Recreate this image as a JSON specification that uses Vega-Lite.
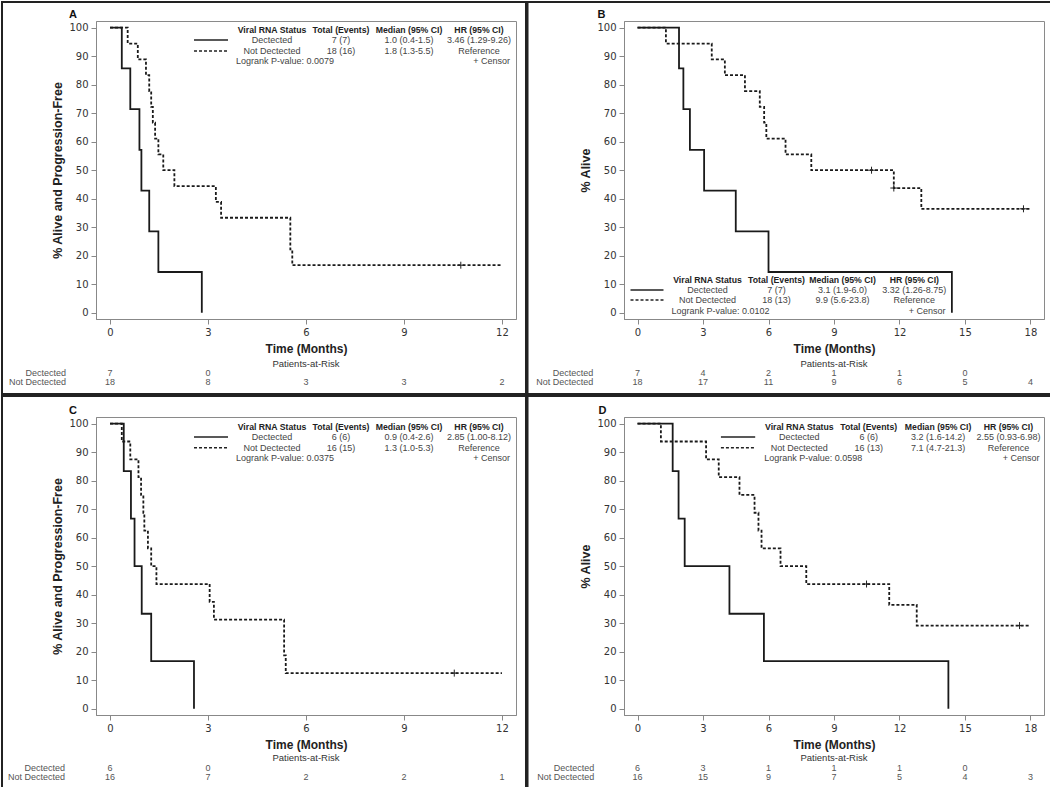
{
"$schema": "https://vega.github.io/schema/vega-lite/v6.json",
"background": "white",
"padding": 0,
"columns": 2,
"spacing": -2,
"datasets": {
"one": [{}],
"km": [
{"p":"A","g":"Dectected","t":0,"s":100},{"p":"A","g":"Dectected","t":0.36,"s":85.71},{"p":"A","g":"Dectected","t":0.62,"s":71.43},{"p":"A","g":"Dectected","t":0.9,"s":57.14},{"p":"A","g":"Dectected","t":0.96,"s":42.86},{"p":"A","g":"Dectected","t":1.2,"s":28.57},{"p":"A","g":"Dectected","t":1.48,"s":14.29},{"p":"A","g":"Dectected","t":2.81,"s":0},
{"p":"A","g":"Not Dectected","t":0,"s":100},{"p":"A","g":"Not Dectected","t":0.54,"s":94.44},{"p":"A","g":"Not Dectected","t":0.85,"s":88.89},{"p":"A","g":"Not Dectected","t":1.1,"s":83.33},{"p":"A","g":"Not Dectected","t":1.2,"s":77.78},{"p":"A","g":"Not Dectected","t":1.26,"s":72.22},{"p":"A","g":"Not Dectected","t":1.31,"s":66.67},{"p":"A","g":"Not Dectected","t":1.38,"s":61.11},{"p":"A","g":"Not Dectected","t":1.48,"s":55.56},{"p":"A","g":"Not Dectected","t":1.63,"s":50},{"p":"A","g":"Not Dectected","t":1.97,"s":44.44},{"p":"A","g":"Not Dectected","t":3.24,"s":38.89},{"p":"A","g":"Not Dectected","t":3.4,"s":33.33},{"p":"A","g":"Not Dectected","t":5.52,"s":22.22},{"p":"A","g":"Not Dectected","t":5.58,"s":16.67},{"p":"A","g":"Not Dectected","t":12,"s":16.67},
{"p":"B","g":"Dectected","t":0,"s":100},{"p":"B","g":"Dectected","t":1.9,"s":85.71},{"p":"B","g":"Dectected","t":2.1,"s":71.43},{"p":"B","g":"Dectected","t":2.4,"s":57.14},{"p":"B","g":"Dectected","t":3.05,"s":42.86},{"p":"B","g":"Dectected","t":4.5,"s":28.57},{"p":"B","g":"Dectected","t":6.0,"s":14.29},{"p":"B","g":"Dectected","t":14.4,"s":0},
{"p":"B","g":"Not Dectected","t":0,"s":100},{"p":"B","g":"Not Dectected","t":1.3,"s":94.44},{"p":"B","g":"Not Dectected","t":3.4,"s":88.89},{"p":"B","g":"Not Dectected","t":4.0,"s":83.33},{"p":"B","g":"Not Dectected","t":4.92,"s":77.78},{"p":"B","g":"Not Dectected","t":5.6,"s":72.22},{"p":"B","g":"Not Dectected","t":5.8,"s":66.67},{"p":"B","g":"Not Dectected","t":5.9,"s":61.11},{"p":"B","g":"Not Dectected","t":6.78,"s":55.56},{"p":"B","g":"Not Dectected","t":7.96,"s":50},{"p":"B","g":"Not Dectected","t":11.74,"s":43.75},{"p":"B","g":"Not Dectected","t":13.0,"s":36.46},{"p":"B","g":"Not Dectected","t":18,"s":36.46},
{"p":"C","g":"Dectected","t":0,"s":100},{"p":"C","g":"Dectected","t":0.42,"s":83.33},{"p":"C","g":"Dectected","t":0.64,"s":66.67},{"p":"C","g":"Dectected","t":0.75,"s":50},{"p":"C","g":"Dectected","t":0.97,"s":33.33},{"p":"C","g":"Dectected","t":1.26,"s":16.67},{"p":"C","g":"Dectected","t":2.57,"s":0},
{"p":"C","g":"Not Dectected","t":0,"s":100},{"p":"C","g":"Not Dectected","t":0.36,"s":93.75},{"p":"C","g":"Not Dectected","t":0.62,"s":87.5},{"p":"C","g":"Not Dectected","t":0.87,"s":81.25},{"p":"C","g":"Not Dectected","t":0.95,"s":75},{"p":"C","g":"Not Dectected","t":1.02,"s":68.75},{"p":"C","g":"Not Dectected","t":1.05,"s":62.5},{"p":"C","g":"Not Dectected","t":1.16,"s":56.25},{"p":"C","g":"Not Dectected","t":1.26,"s":50},{"p":"C","g":"Not Dectected","t":1.42,"s":43.75},{"p":"C","g":"Not Dectected","t":3.05,"s":37.5},{"p":"C","g":"Not Dectected","t":3.18,"s":31.25},{"p":"C","g":"Not Dectected","t":5.33,"s":18.75},{"p":"C","g":"Not Dectected","t":5.38,"s":12.5},{"p":"C","g":"Not Dectected","t":12,"s":12.5},
{"p":"D","g":"Dectected","t":0,"s":100},{"p":"D","g":"Dectected","t":1.61,"s":83.33},{"p":"D","g":"Dectected","t":1.88,"s":66.67},{"p":"D","g":"Dectected","t":2.16,"s":50},{"p":"D","g":"Dectected","t":4.21,"s":33.33},{"p":"D","g":"Dectected","t":5.79,"s":16.67},{"p":"D","g":"Dectected","t":14.24,"s":0},
{"p":"D","g":"Not Dectected","t":0,"s":100},{"p":"D","g":"Not Dectected","t":1.07,"s":93.75},{"p":"D","g":"Not Dectected","t":3.14,"s":87.5},{"p":"D","g":"Not Dectected","t":3.72,"s":81.25},{"p":"D","g":"Not Dectected","t":4.67,"s":75},{"p":"D","g":"Not Dectected","t":5.36,"s":68.75},{"p":"D","g":"Not Dectected","t":5.54,"s":62.5},{"p":"D","g":"Not Dectected","t":5.68,"s":56.25},{"p":"D","g":"Not Dectected","t":6.55,"s":50},{"p":"D","g":"Not Dectected","t":7.73,"s":43.75},{"p":"D","g":"Not Dectected","t":11.53,"s":36.46},{"p":"D","g":"Not Dectected","t":12.79,"s":29.17},{"p":"D","g":"Not Dectected","t":17.92,"s":29.17}
],
"cens": [
{"p":"A","t":10.74,"s":16.67},
{"p":"B","t":10.72,"s":50},{"p":"B","t":11.74,"s":43.75},{"p":"B","t":17.68,"s":36.46},
{"p":"C","t":10.54,"s":12.5},
{"p":"D","t":10.49,"s":43.75},{"p":"D","t":17.5,"s":29.17}
],
"risk": [
{"p":"A","g":"Dectected","t":0,"n":7},{"p":"A","g":"Dectected","t":3,"n":0},
{"p":"A","g":"Not Dectected","t":0,"n":18},{"p":"A","g":"Not Dectected","t":3,"n":8},{"p":"A","g":"Not Dectected","t":6,"n":3},{"p":"A","g":"Not Dectected","t":9,"n":3},{"p":"A","g":"Not Dectected","t":12,"n":2},
{"p":"B","g":"Dectected","t":0,"n":7},{"p":"B","g":"Dectected","t":3,"n":4},{"p":"B","g":"Dectected","t":6,"n":2},{"p":"B","g":"Dectected","t":9,"n":1},{"p":"B","g":"Dectected","t":12,"n":1},{"p":"B","g":"Dectected","t":15,"n":0},
{"p":"B","g":"Not Dectected","t":0,"n":18},{"p":"B","g":"Not Dectected","t":3,"n":17},{"p":"B","g":"Not Dectected","t":6,"n":11},{"p":"B","g":"Not Dectected","t":9,"n":9},{"p":"B","g":"Not Dectected","t":12,"n":6},{"p":"B","g":"Not Dectected","t":15,"n":5},{"p":"B","g":"Not Dectected","t":18,"n":4},
{"p":"C","g":"Dectected","t":0,"n":6},{"p":"C","g":"Dectected","t":3,"n":0},
{"p":"C","g":"Not Dectected","t":0,"n":16},{"p":"C","g":"Not Dectected","t":3,"n":7},{"p":"C","g":"Not Dectected","t":6,"n":2},{"p":"C","g":"Not Dectected","t":9,"n":2},{"p":"C","g":"Not Dectected","t":12,"n":1},
{"p":"D","g":"Dectected","t":0,"n":6},{"p":"D","g":"Dectected","t":3,"n":3},{"p":"D","g":"Dectected","t":6,"n":1},{"p":"D","g":"Dectected","t":9,"n":1},{"p":"D","g":"Dectected","t":12,"n":1},{"p":"D","g":"Dectected","t":15,"n":0},
{"p":"D","g":"Not Dectected","t":0,"n":16},{"p":"D","g":"Not Dectected","t":3,"n":15},{"p":"D","g":"Not Dectected","t":6,"n":9},{"p":"D","g":"Not Dectected","t":9,"n":7},{"p":"D","g":"Not Dectected","t":12,"n":5},{"p":"D","g":"Not Dectected","t":15,"n":4},{"p":"D","g":"Not Dectected","t":18,"n":3}
]
},
"concat": [
{
"width": 420, "height": 298,
"layer": [
{"data":{"name":"one"},"mark":{"type":"rect","fill":"white","fillOpacity":0,"stroke":"#222","strokeWidth":2},"encoding":{"x":{"datum":-3.308,"scale":{"domain":[-0.43,12.43],"nice":false,"zero":false},"axis":{"values":[0,3,6,9,12],"title":"Time (Months)"}},"x2":{"datum":12.736},"y":{"datum":109.02,"scale":{"domain":[-2.2,102.35],"nice":false,"zero":false},"axis":{"values":[0,10,20,30,40,50,60,70,80,90,100],"labelOverlap":false,"tickCount":11,"title":"% Alive and Progression-Free"}},"y2":{"datum":-28.51}}},
{"data":{"name":"km"},"transform":[{"filter":"datum.p == 'A'"}],"mark":{"type":"line","interpolate":"step-after","color":"#1a1a1a","strokeWidth":1.8},
"encoding":{"x":{"field":"t","type":"quantitative","title":"Time (Months)","axis":{"values":[0,3,6,9,12]}},
"y":{"field":"s","type":"quantitative","title":"% Alive and Progression-Free","axis":{"values":[0,10,20,30,40,50,60,70,80,90,100],"labelOverlap":false,"tickCount":11}},
"strokeDash":{"field":"g","type":"nominal","scale":{"domain":["Dectected","Not Dectected"],"range":[[1,0],[3,2]]},"legend":null}}},
{"data":{"name":"cens"},"transform":[{"filter":"datum.p == 'A'"}],"mark":{"type":"point","shape":"M-1,0L1,0M0,-1L0,1","size":49,"filled":false,"color":"#222","strokeWidth":1,"opacity":1},"encoding":{"x":{"field":"t","type":"quantitative","title":"Time (Months)","axis":{"values":[0,3,6,9,12]}},"y":{"field":"s","type":"quantitative","title":"% Alive and Progression-Free","axis":{"values":[0,10,20,30,40,50,60,70,80,90,100],"labelOverlap":false,"tickCount":11}}}},
{"data":{"name":"one"},"mark":{"type":"text","text":"A","fontWeight":"bold","fontSize":11,"color":"#111"},"encoding":{"x":{"datum":-1.134},"y":{"datum":104.6}}},
{"data":{"name":"one"},"mark":{"type":"rule","color":"#222","strokeWidth":1.6},"encoding":{"x":{"datum":2.571},"x2":{"datum":3.612},"y":{"datum":95.68}}},
{"data":{"name":"one"},"mark":{"type":"rule","color":"#222","strokeWidth":1.6,"strokeDash":[3,2]},"encoding":{"x":{"datum":2.571},"x2":{"datum":3.612},"y":{"datum":91.82}}},
{"data":{"name":"one"},"mark":{"type":"text","text":"Viral RNA Status","fontWeight":"bold","fontSize":8.7,"color":"#222"},"encoding":{"x":{"datum":4.959},"y":{"datum":99.19}}},
{"data":{"name":"one"},"mark":{"type":"text","text":"Total (Events)","fontWeight":"bold","fontSize":8.7,"color":"#222"},"encoding":{"x":{"datum":7.072},"y":{"datum":99.19}}},
{"data":{"name":"one"},"mark":{"type":"text","text":"Median (95% CI)","fontWeight":"bold","fontSize":8.7,"color":"#222"},"encoding":{"x":{"datum":9.154},"y":{"datum":99.19}}},
{"data":{"name":"one"},"mark":{"type":"text","text":"HR (95% CI)","fontWeight":"bold","fontSize":8.7,"color":"#222"},"encoding":{"x":{"datum":11.297},"y":{"datum":99.19}}},
{"data":{"name":"one"},"mark":{"type":"text","text":["Dectected","Not Dectected"],"lineHeight":11},"encoding":{"x":{"datum":4.959},"y":{"datum":95.68}}},
{"data":{"name":"one"},"mark":{"type":"text","text":["7 (7)","18 (16)"],"lineHeight":11},"encoding":{"x":{"datum":7.072},"y":{"datum":95.68}}},
{"data":{"name":"one"},"mark":{"type":"text","text":["1.0 (0.4-1.5)","1.8 (1.3-5.5)"],"lineHeight":11},"encoding":{"x":{"datum":9.154},"y":{"datum":95.68}}},
{"data":{"name":"one"},"mark":{"type":"text","text":["3.46 (1.29-9.26)","Reference"],"lineHeight":11},"encoding":{"x":{"datum":11.297},"y":{"datum":95.68}}},
{"data":{"name":"one"},"mark":{"type":"text","text":"Logrank P-value: 0.0079","align":"left"},"encoding":{"x":{"datum":3.857},"y":{"datum":88.31}}},
{"data":{"name":"one"},"mark":{"type":"text","text":"+  Censor","align":"right"},"encoding":{"x":{"datum":12.246},"y":{"datum":88.31}}},
{"data":{"name":"one"},"mark":{"type":"text","text":"Patients-at-Risk","fontSize":9.5,"color":"#333"},"encoding":{"x":{"datum":6},"y":{"datum":-17.9}}},
{"data":{"name":"one"},"mark":{"type":"text","text":["Dectected","Not Dectected"],"align":"right","lineHeight":9,"color":"#555"},"encoding":{"x":{"datum":-1.349},"y":{"datum":-21.16}}},
{"data":{"name":"risk"},"transform":[{"filter":"datum.p == 'A' && datum.g == 'Dectected'"}],"mark":{"type":"text","color":"#555"},"encoding":{"x":{"field":"t","type":"quantitative","title":"Time (Months)","axis":{"values":[0,3,6,9,12]}},"y":{"datum":-21.16},"text":{"field":"n"}}},
{"data":{"name":"risk"},"transform":[{"filter":"datum.p == 'A' && datum.g == 'Not Dectected'"}],"mark":{"type":"text","color":"#555"},"encoding":{"x":{"field":"t","type":"quantitative","title":"Time (Months)","axis":{"values":[0,3,6,9,12]}},"y":{"datum":-24.32},"text":{"field":"n"}}}
]
},
{
"width": 420, "height": 298,
"layer": [
{"data":{"name":"one"},"mark":{"type":"rect","fill":"white","fillOpacity":0,"stroke":"#222","strokeWidth":2},"encoding":{"x":{"datum":-5.04,"scale":{"domain":[-0.62,18.62],"nice":false,"zero":false},"axis":{"values":[0,3,6,9,12,15,18],"title":"Time (Months)"}},"x2":{"datum":18.963},"y":{"datum":109.02,"scale":{"domain":[-2.2,102.35],"nice":false,"zero":false},"axis":{"values":[0,10,20,30,40,50,60,70,80,90,100],"labelOverlap":false,"tickCount":11,"title":"% Alive"}},"y2":{"datum":-28.51}}},
{"data":{"name":"km"},"transform":[{"filter":"datum.p == 'B'"}],"mark":{"type":"line","interpolate":"step-after","color":"#1a1a1a","strokeWidth":1.8},
"encoding":{"x":{"field":"t","type":"quantitative","title":"Time (Months)","axis":{"values":[0,3,6,9,12,15,18]}},
"y":{"field":"s","type":"quantitative","title":"% Alive","axis":{"values":[0,10,20,30,40,50,60,70,80,90,100],"labelOverlap":false,"tickCount":11}},
"strokeDash":{"field":"g","type":"nominal","scale":{"domain":["Dectected","Not Dectected"],"range":[[1,0],[3,2]]},"legend":null}}},
{"data":{"name":"cens"},"transform":[{"filter":"datum.p == 'B'"}],"mark":{"type":"point","shape":"M-1,0L1,0M0,-1L0,1","size":49,"filled":false,"color":"#222","strokeWidth":1,"opacity":1},"encoding":{"x":{"field":"t","type":"quantitative","title":"Time (Months)","axis":{"values":[0,3,6,9,12,15,18]}},"y":{"field":"s","type":"quantitative","title":"% Alive","axis":{"values":[0,10,20,30,40,50,60,70,80,90,100],"labelOverlap":false,"tickCount":11}}}},
{"data":{"name":"one"},"mark":{"type":"text","text":"B","fontWeight":"bold","fontSize":11,"color":"#111"},"encoding":{"x":{"datum":-1.65},"y":{"datum":104.6}}},
{"data":{"name":"one"},"mark":{"type":"rule","color":"#222","strokeWidth":1.6},"encoding":{"x":{"datum":-0.322},"x2":{"datum":1.189},"y":{"datum":7.96}}},
{"data":{"name":"one"},"mark":{"type":"rule","color":"#222","strokeWidth":1.6,"strokeDash":[3,2]},"encoding":{"x":{"datum":-0.322},"x2":{"datum":1.189},"y":{"datum":4.45}}},
{"data":{"name":"one"},"mark":{"type":"text","text":"Viral RNA Status","fontWeight":"bold","fontSize":8.7,"color":"#222"},"encoding":{"x":{"datum":3.205},"y":{"datum":11.47}}},
{"data":{"name":"one"},"mark":{"type":"text","text":"Total (Events)","fontWeight":"bold","fontSize":8.7,"color":"#222"},"encoding":{"x":{"datum":6.366},"y":{"datum":11.47}}},
{"data":{"name":"one"},"mark":{"type":"text","text":"Median (95% CI)","fontWeight":"bold","fontSize":8.7,"color":"#222"},"encoding":{"x":{"datum":9.39},"y":{"datum":11.47}}},
{"data":{"name":"one"},"mark":{"type":"text","text":"HR (95% CI)","fontWeight":"bold","fontSize":8.7,"color":"#222"},"encoding":{"x":{"datum":12.68},"y":{"datum":11.47}}},
{"data":{"name":"one"},"mark":{"type":"text","text":["Dectected","Not Dectected"],"lineHeight":10},"encoding":{"x":{"datum":3.205},"y":{"datum":7.96}}},
{"data":{"name":"one"},"mark":{"type":"text","text":["7 (7)","18 (13)"],"lineHeight":10},"encoding":{"x":{"datum":6.366},"y":{"datum":7.96}}},
{"data":{"name":"one"},"mark":{"type":"text","text":["3.1 (1.9-6.0)","9.9 (5.6-23.8)"],"lineHeight":10},"encoding":{"x":{"datum":9.39},"y":{"datum":7.96}}},
{"data":{"name":"one"},"mark":{"type":"text","text":["3.32 (1.26-8.75)","Reference"],"lineHeight":10},"encoding":{"x":{"datum":12.68},"y":{"datum":7.96}}},
{"data":{"name":"one"},"mark":{"type":"text","text":"Logrank P-value: 0.0102","align":"left"},"encoding":{"x":{"datum":1.556},"y":{"datum":0.59}}},
{"data":{"name":"one"},"mark":{"type":"text","text":"+  Censor","align":"right"},"encoding":{"x":{"datum":14.107},"y":{"datum":0.59}}},
{"data":{"name":"one"},"mark":{"type":"text","text":"Patients-at-Risk","fontSize":9.5,"color":"#333"},"encoding":{"x":{"datum":9},"y":{"datum":-17.9}}},
{"data":{"name":"one"},"mark":{"type":"text","text":["Dectected","Not Dectected"],"align":"right","lineHeight":9,"color":"#555"},"encoding":{"x":{"datum":-2.03},"y":{"datum":-21.16}}},
{"data":{"name":"risk"},"transform":[{"filter":"datum.p == 'B' && datum.g == 'Dectected'"}],"mark":{"type":"text","color":"#555"},"encoding":{"x":{"field":"t","type":"quantitative","title":"Time (Months)","axis":{"values":[0,3,6,9,12,15,18]}},"y":{"datum":-21.16},"text":{"field":"n"}}},
{"data":{"name":"risk"},"transform":[{"filter":"datum.p == 'B' && datum.g == 'Not Dectected'"}],"mark":{"type":"text","color":"#555"},"encoding":{"x":{"field":"t","type":"quantitative","title":"Time (Months)","axis":{"values":[0,3,6,9,12,15,18]}},"y":{"datum":-24.32},"text":{"field":"n"}}}
]
},
{
"width": 420, "height": 298,
"layer": [
{"data":{"name":"one"},"mark":{"type":"rect","fill":"white","fillOpacity":0,"stroke":"#222","strokeWidth":2},"encoding":{"x":{"datum":-3.308,"scale":{"domain":[-0.43,12.43],"nice":false,"zero":false},"axis":{"values":[0,3,6,9,12],"title":"Time (Months)"}},"x2":{"datum":12.736},"y":{"datum":109.72,"scale":{"domain":[-2.2,102.35],"nice":false,"zero":false},"axis":{"values":[0,10,20,30,40,50,60,70,80,90,100],"labelOverlap":false,"tickCount":11,"title":"% Alive and Progression-Free"}},"y2":{"datum":-28.16}}},
{"data":{"name":"km"},"transform":[{"filter":"datum.p == 'C'"}],"mark":{"type":"line","interpolate":"step-after","color":"#1a1a1a","strokeWidth":1.8},
"encoding":{"x":{"field":"t","type":"quantitative","title":"Time (Months)","axis":{"values":[0,3,6,9,12]}},
"y":{"field":"s","type":"quantitative","title":"% Alive and Progression-Free","axis":{"values":[0,10,20,30,40,50,60,70,80,90,100],"labelOverlap":false,"tickCount":11}},
"strokeDash":{"field":"g","type":"nominal","scale":{"domain":["Dectected","Not Dectected"],"range":[[1,0],[3,2]]},"legend":null}}},
{"data":{"name":"cens"},"transform":[{"filter":"datum.p == 'C'"}],"mark":{"type":"point","shape":"M-1,0L1,0M0,-1L0,1","size":49,"filled":false,"color":"#222","strokeWidth":1,"opacity":1},"encoding":{"x":{"field":"t","type":"quantitative","title":"Time (Months)","axis":{"values":[0,3,6,9,12]}},"y":{"field":"s","type":"quantitative","title":"% Alive and Progression-Free","axis":{"values":[0,10,20,30,40,50,60,70,80,90,100],"labelOverlap":false,"tickCount":11}}}},
{"data":{"name":"one"},"mark":{"type":"text","text":"C","fontWeight":"bold","fontSize":11,"color":"#111"},"encoding":{"x":{"datum":-1.134},"y":{"datum":104.6}}},
{"data":{"name":"one"},"mark":{"type":"rule","color":"#222","strokeWidth":1.6},"encoding":{"x":{"datum":2.571},"x2":{"datum":3.612},"y":{"datum":95.33}}},
{"data":{"name":"one"},"mark":{"type":"rule","color":"#222","strokeWidth":1.6,"strokeDash":[3,2]},"encoding":{"x":{"datum":2.571},"x2":{"datum":3.612},"y":{"datum":91.58}}},
{"data":{"name":"one"},"mark":{"type":"text","text":"Viral RNA Status","fontWeight":"bold","fontSize":8.7,"color":"#222"},"encoding":{"x":{"datum":4.959},"y":{"datum":98.84}}},
{"data":{"name":"one"},"mark":{"type":"text","text":"Total (Events)","fontWeight":"bold","fontSize":8.7,"color":"#222"},"encoding":{"x":{"datum":7.072},"y":{"datum":98.84}}},
{"data":{"name":"one"},"mark":{"type":"text","text":"Median (95% CI)","fontWeight":"bold","fontSize":8.7,"color":"#222"},"encoding":{"x":{"datum":9.154},"y":{"datum":98.84}}},
{"data":{"name":"one"},"mark":{"type":"text","text":"HR (95% CI)","fontWeight":"bold","fontSize":8.7,"color":"#222"},"encoding":{"x":{"datum":11.297},"y":{"datum":98.84}}},
{"data":{"name":"one"},"mark":{"type":"text","text":["Dectected","Not Dectected"],"lineHeight":11},"encoding":{"x":{"datum":4.959},"y":{"datum":95.33}}},
{"data":{"name":"one"},"mark":{"type":"text","text":["6 (6)","16 (15)"],"lineHeight":11},"encoding":{"x":{"datum":7.072},"y":{"datum":95.33}}},
{"data":{"name":"one"},"mark":{"type":"text","text":["0.9 (0.4-2.6)","1.3 (1.0-5.3)"],"lineHeight":11},"encoding":{"x":{"datum":9.154},"y":{"datum":95.33}}},
{"data":{"name":"one"},"mark":{"type":"text","text":["2.85 (1.00-8.12)","Reference"],"lineHeight":11},"encoding":{"x":{"datum":11.297},"y":{"datum":95.33}}},
{"data":{"name":"one"},"mark":{"type":"text","text":"Logrank P-value: 0.0375","align":"left"},"encoding":{"x":{"datum":3.857},"y":{"datum":87.86}}},
{"data":{"name":"one"},"mark":{"type":"text","text":"+  Censor","align":"right"},"encoding":{"x":{"datum":12.246},"y":{"datum":87.86}}},
{"data":{"name":"one"},"mark":{"type":"text","text":"Patients-at-Risk","fontSize":9.5,"color":"#333"},"encoding":{"x":{"datum":6},"y":{"datum":-17.3}}},
{"data":{"name":"one"},"mark":{"type":"text","text":["Dectected","Not Dectected"],"align":"right","lineHeight":9,"color":"#555"},"encoding":{"x":{"datum":-1.38},"y":{"datum":-20.7}}},
{"data":{"name":"risk"},"transform":[{"filter":"datum.p == 'C' && datum.g == 'Dectected'"}],"mark":{"type":"text","color":"#555"},"encoding":{"x":{"field":"t","type":"quantitative","title":"Time (Months)","axis":{"values":[0,3,6,9,12]}},"y":{"datum":-20.7},"text":{"field":"n"}}},
{"data":{"name":"risk"},"transform":[{"filter":"datum.p == 'C' && datum.g == 'Not Dectected'"}],"mark":{"type":"text","color":"#555"},"encoding":{"x":{"field":"t","type":"quantitative","title":"Time (Months)","axis":{"values":[0,3,6,9,12]}},"y":{"datum":-23.86},"text":{"field":"n"}}}
]
},
{
"width": 420, "height": 298,
"layer": [
{"data":{"name":"one"},"mark":{"type":"rect","fill":"white","fillOpacity":0,"stroke":"#222","strokeWidth":2},"encoding":{"x":{"datum":-5.04,"scale":{"domain":[-0.62,18.62],"nice":false,"zero":false},"axis":{"values":[0,3,6,9,12,15,18],"title":"Time (Months)"}},"x2":{"datum":18.963},"y":{"datum":109.72,"scale":{"domain":[-2.2,102.35],"nice":false,"zero":false},"axis":{"values":[0,10,20,30,40,50,60,70,80,90,100],"labelOverlap":false,"tickCount":11,"title":"% Alive"}},"y2":{"datum":-28.16}}},
{"data":{"name":"km"},"transform":[{"filter":"datum.p == 'D'"}],"mark":{"type":"line","interpolate":"step-after","color":"#1a1a1a","strokeWidth":1.8},
"encoding":{"x":{"field":"t","type":"quantitative","title":"Time (Months)","axis":{"values":[0,3,6,9,12,15,18]}},
"y":{"field":"s","type":"quantitative","title":"% Alive","axis":{"values":[0,10,20,30,40,50,60,70,80,90,100],"labelOverlap":false,"tickCount":11}},
"strokeDash":{"field":"g","type":"nominal","scale":{"domain":["Dectected","Not Dectected"],"range":[[1,0],[3,2]]},"legend":null}}},
{"data":{"name":"cens"},"transform":[{"filter":"datum.p == 'D'"}],"mark":{"type":"point","shape":"M-1,0L1,0M0,-1L0,1","size":49,"filled":false,"color":"#222","strokeWidth":1,"opacity":1},"encoding":{"x":{"field":"t","type":"quantitative","title":"Time (Months)","axis":{"values":[0,3,6,9,12,15,18]}},"y":{"field":"s","type":"quantitative","title":"% Alive","axis":{"values":[0,10,20,30,40,50,60,70,80,90,100],"labelOverlap":false,"tickCount":11}}}},
{"data":{"name":"one"},"mark":{"type":"text","text":"D","fontWeight":"bold","fontSize":11,"color":"#111"},"encoding":{"x":{"datum":-1.605},"y":{"datum":104.6}}},
{"data":{"name":"one"},"mark":{"type":"rule","color":"#222","strokeWidth":1.6},"encoding":{"x":{"datum":3.82},"x2":{"datum":5.39},"y":{"datum":95.33}}},
{"data":{"name":"one"},"mark":{"type":"rule","color":"#222","strokeWidth":1.6,"strokeDash":[3,2]},"encoding":{"x":{"datum":3.82},"x2":{"datum":5.39},"y":{"datum":91.58}}},
{"data":{"name":"one"},"mark":{"type":"text","text":"Viral RNA Status","fontWeight":"bold","fontSize":8.7,"color":"#222"},"encoding":{"x":{"datum":7.41},"y":{"datum":98.84}}},
{"data":{"name":"one"},"mark":{"type":"text","text":"Total (Events)","fontWeight":"bold","fontSize":8.7,"color":"#222"},"encoding":{"x":{"datum":10.59},"y":{"datum":98.84}}},
{"data":{"name":"one"},"mark":{"type":"text","text":"Median (95% CI)","fontWeight":"bold","fontSize":8.7,"color":"#222"},"encoding":{"x":{"datum":13.77},"y":{"datum":98.84}}},
{"data":{"name":"one"},"mark":{"type":"text","text":"HR (95% CI)","fontWeight":"bold","fontSize":8.7,"color":"#222"},"encoding":{"x":{"datum":16.99},"y":{"datum":98.84}}},
{"data":{"name":"one"},"mark":{"type":"text","text":["Dectected","Not Dectected"],"lineHeight":11},"encoding":{"x":{"datum":7.41},"y":{"datum":95.33}}},
{"data":{"name":"one"},"mark":{"type":"text","text":["6 (6)","16 (13)"],"lineHeight":11},"encoding":{"x":{"datum":10.59},"y":{"datum":95.33}}},
{"data":{"name":"one"},"mark":{"type":"text","text":["3.2 (1.6-14.2)","7.1 (4.7-21.3)"],"lineHeight":11},"encoding":{"x":{"datum":13.77},"y":{"datum":95.33}}},
{"data":{"name":"one"},"mark":{"type":"text","text":["2.55 (0.93-6.98)","Reference"],"lineHeight":11},"encoding":{"x":{"datum":16.99},"y":{"datum":95.33}}},
{"data":{"name":"one"},"mark":{"type":"text","text":"Logrank P-value: 0.0598","align":"left"},"encoding":{"x":{"datum":5.8},"y":{"datum":87.86}}},
{"data":{"name":"one"},"mark":{"type":"text","text":"+  Censor","align":"right"},"encoding":{"x":{"datum":18.42},"y":{"datum":87.86}}},
{"data":{"name":"one"},"mark":{"type":"text","text":"Patients-at-Risk","fontSize":9.5,"color":"#333"},"encoding":{"x":{"datum":9},"y":{"datum":-17.3}}},
{"data":{"name":"one"},"mark":{"type":"text","text":["Dectected","Not Dectected"],"align":"right","lineHeight":9,"color":"#555"},"encoding":{"x":{"datum":-1.985},"y":{"datum":-20.7}}},
{"data":{"name":"risk"},"transform":[{"filter":"datum.p == 'D' && datum.g == 'Dectected'"}],"mark":{"type":"text","color":"#555"},"encoding":{"x":{"field":"t","type":"quantitative","title":"Time (Months)","axis":{"values":[0,3,6,9,12,15,18]}},"y":{"datum":-20.7},"text":{"field":"n"}}},
{"data":{"name":"risk"},"transform":[{"filter":"datum.p == 'D' && datum.g == 'Not Dectected'"}],"mark":{"type":"text","color":"#555"},"encoding":{"x":{"field":"t","type":"quantitative","title":"Time (Months)","axis":{"values":[0,3,6,9,12,15,18]}},"y":{"datum":-23.86},"text":{"field":"n"}}}
]
}
],
"config": {
"view": {"stroke": "#8a8a8a", "strokeWidth": 1},
"axis": {"grid": false, "tickSize": 5, "tickColor": "#888", "domainColor": "#888", "labelFont": "DejaVu Sans", "labelFontSize": 10, "labelColor": "#333", "labelPadding": 3, "labelFlush": false, "labelOverlap": false, "titleFont": "Liberation Sans", "titleFontSize": 12, "titleFontWeight": "bold", "titleColor": "#222"},
"axisX": {"titlePadding": 6},
"axisY": {"titlePadding": 4, "tickCount": 11, "titleFontSize": 12.5},
"text": {"font": "Liberation Sans", "fontSize": 9, "color": "#444"}
}
}
